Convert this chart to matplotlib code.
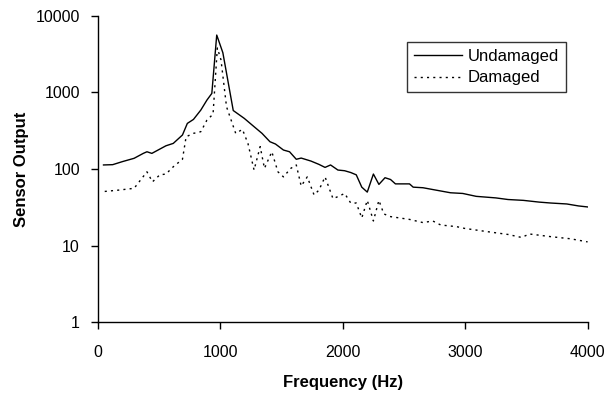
import matplotlib
matplotlib.use("Agg")
import matplotlib.pyplot as plt

# Undamaged response (solid)
freq_u = [45, 120, 200, 295, 370, 400, 440, 555, 615, 690, 730, 780, 840, 890, 930,
          970, 1020, 1105, 1195, 1275, 1340, 1405, 1450, 1515, 1565, 1620, 1660,
          1740, 1805, 1855, 1900, 1960, 2015, 2065, 2110, 2155, 2200, 2250, 2295,
          2345, 2390, 2430, 2545, 2575, 2655, 2735, 2880, 2980, 3090, 3250, 3350,
          3475, 3605, 3700, 3830, 3925, 4000]
vals_u = [113, 114, 125, 138, 160, 168, 160, 201, 216, 278, 394, 444, 588, 794, 970,
          5600, 3300, 580, 458, 357, 292, 227, 212, 177, 168, 134, 139,
          127, 115, 105, 113, 97, 95, 90, 84, 58, 50, 86, 63,
          77, 73, 64, 64, 58, 57, 54, 49, 48, 44, 42, 40,
          39, 37, 36, 35, 33, 32]

# Damaged response (dotted)
freq_d = [55, 165, 295, 400, 445, 505, 555, 615, 690, 720, 780, 840, 890, 940,
          975, 1005, 1050, 1125, 1180, 1225, 1275, 1325, 1360, 1420, 1470, 1515,
          1575, 1620, 1660, 1710, 1765, 1805, 1855, 1920, 1965, 2015, 2065, 2110,
          2155, 2200, 2250, 2295, 2335, 2385, 2545, 2655, 2735, 2800, 2930, 2995,
          3185, 3350, 3460, 3525, 3700, 3860, 4000]
vals_d = [51, 53, 56, 92, 68, 84, 86, 107, 134, 264, 292, 307, 435, 520,
          3800, 2650, 650, 292, 329, 216, 97, 196, 102, 168, 92, 79,
          102, 113, 60, 79, 46, 53, 79, 41, 44, 48, 36, 36,
          23, 39, 21, 39, 26, 24, 22, 20, 21, 18.6, 17.7, 16.8,
          15.2, 14, 12.8, 14.2, 13.1, 12.3, 11.2]

x_ticks = [0, 1000, 2000, 3000, 4000]
y_ticks = [1, 10, 100, 1000, 10000]

plt.rcParams["font.family"] = ["Liberation Sans", "DejaVu Sans"]

fig = plt.figure(figsize=(6.14, 3.94), dpi=100)
ax = fig.add_axes([0.1596, 0.182, 0.7974, 0.778])

ax.plot(freq_u, vals_u, color="black", lw=1.0, label="Undamaged")
ax.plot(freq_d, vals_d, color="black", lw=1.0, linestyle=(0, (1.5, 3)), label="Damaged")

ax.set_yscale("log")
ax.set_xlim(0, 4000)
ax.set_ylim(1, 10000)
ax.set_xticks(x_ticks)
ax.set_xticklabels([str(v) for v in x_ticks])
ax.set_yticks(y_ticks)
ax.set_yticklabels([str(v) for v in y_ticks])
ax.minorticks_off()

for side in ["top", "right"]:
    ax.spines[side].set_visible(False)
for side in ["left", "bottom"]:
    ax.spines[side].set_linewidth(1.0)
ax.tick_params(axis="both", direction="out", length=5, width=1.0, labelsize=11.5)
ax.tick_params(axis="x", pad=11)
ax.tick_params(axis="y", pad=8)

ax.set_xlabel("Frequency (Hz)", fontsize=12, fontweight="bold", labelpad=11)
ax.set_ylabel("Sensor Output", fontsize=12, fontweight="bold", labelpad=5)

leg = ax.legend(loc="upper left", bbox_to_anchor=(407 / 614, 1 - 42 / 394),
                bbox_transform=fig.transFigure, fontsize=12, frameon=True,
                fancybox=False, edgecolor="black", handlelength=2.9,
                handletextpad=0.35, borderpad=0.4, labelspacing=0.4,
                borderaxespad=0)
leg.get_frame().set_linewidth(1.0)

fig.savefig("out.png", dpi=100)
